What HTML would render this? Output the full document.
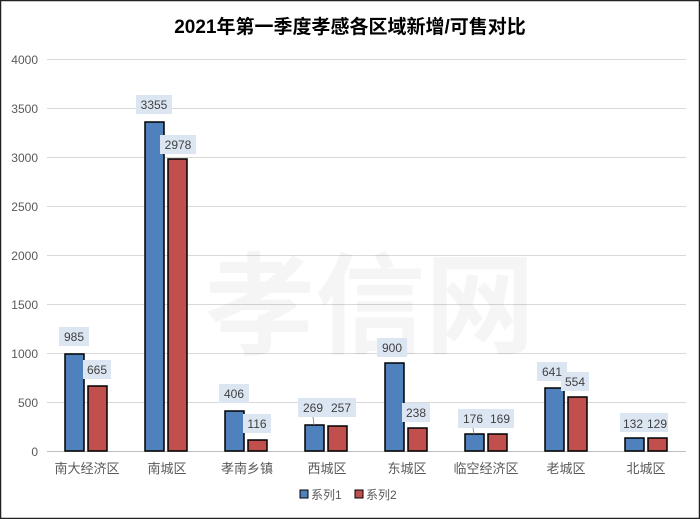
<!DOCTYPE html>
<html><head><meta charset="utf-8"><style>
body{margin:0;background:#fff}
svg{display:block;font-family:"Liberation Sans","Noto Sans CJK SC",sans-serif}
</style></head><body>
<svg width="700" height="519" viewBox="0 0 700 519">
<rect x="0.5" y="0.5" width="699" height="518" fill="#fff" stroke="#222" stroke-width="1.5"/>
<text x="350" y="33" text-anchor="middle" font-size="19" font-weight="bold" fill="#000">2021年第一季度孝感各区域新增/可售对比</text>
<g stroke="#d9d9d9" stroke-width="1">
<line x1="47" x2="686" y1="59.5" y2="59.5"/><line x1="47" x2="686" y1="108.5" y2="108.5"/>
<line x1="47" x2="686" y1="157.5" y2="157.5"/><line x1="47" x2="686" y1="206.5" y2="206.5"/>
<line x1="47" x2="686" y1="255.5" y2="255.5"/><line x1="47" x2="686" y1="304.5" y2="304.5"/>
<line x1="47" x2="686" y1="353.5" y2="353.5"/><line x1="47" x2="686" y1="402.5" y2="402.5"/>
<line x1="47" x2="686" y1="451.5" y2="451.5" stroke="#bfbfbf"/>
</g>
<g font-size="12" fill="#595959" text-anchor="end">
<text x="38" y="64">4000</text><text x="38" y="113">3500</text><text x="38" y="162">3000</text>
<text x="38" y="211">2500</text><text x="38" y="260">2000</text><text x="38" y="309">1500</text>
<text x="38" y="358">1000</text><text x="38" y="407">500</text><text x="38" y="456">0</text>
</g>
<text x="370" y="345" text-anchor="middle" font-size="110" font-weight="bold" fill="#000" opacity="0.035">孝信网</text>
<g stroke="#000" stroke-width="1.5">
<rect x="65" y="354" width="19" height="97" fill="#4f81bd"/><rect x="88" y="386" width="19" height="65" fill="#c0504d"/>
<rect x="145" y="122" width="19" height="329" fill="#4f81bd"/><rect x="168" y="159" width="19" height="292" fill="#c0504d"/>
<rect x="225" y="411" width="19" height="40" fill="#4f81bd"/><rect x="248" y="440" width="19" height="11" fill="#c0504d"/>
<rect x="305" y="425" width="19" height="26" fill="#4f81bd"/><rect x="328" y="426" width="19" height="25" fill="#c0504d"/>
<rect x="385" y="363" width="19" height="88" fill="#4f81bd"/><rect x="408" y="428" width="19" height="23" fill="#c0504d"/>
<rect x="465" y="434" width="19" height="17" fill="#4f81bd"/><rect x="488" y="434" width="19" height="17" fill="#c0504d"/>
<rect x="545" y="388" width="19" height="63" fill="#4f81bd"/><rect x="568" y="397" width="19" height="54" fill="#c0504d"/>
<rect x="625" y="438" width="19" height="13" fill="#4f81bd"/><rect x="648" y="438" width="19" height="13" fill="#c0504d"/>
</g>
<g font-size="12" fill="#404040" text-anchor="middle">
<g fill="#dce6f2">
<rect x="59" y="327" width="30" height="19"/><rect x="83" y="360" width="28" height="19"/>
<rect x="136" y="95" width="36" height="19"/><rect x="160" y="135" width="36" height="19"/>
<rect x="219" y="384" width="30" height="19"/><rect x="243" y="414" width="28" height="19"/>
<rect x="298" y="398" width="30" height="19"/><rect x="327" y="398" width="29" height="19"/>
<rect x="377" y="338" width="30" height="19"/><rect x="402" y="403" width="28" height="19"/>
<rect x="458" y="409" width="30" height="19"/><rect x="486" y="409" width="28" height="19"/>
<rect x="537" y="362" width="30" height="19"/><rect x="561" y="372" width="28" height="19"/>
<rect x="620" y="413" width="48" height="19"/>
</g>
<text x="74" y="341">985</text><text x="97" y="374">665</text>
<text x="154" y="109">3355</text><text x="178" y="149">2978</text>
<text x="234" y="398">406</text><text x="257" y="428">116</text>
<text x="313" y="412">269</text><text x="341" y="412">257</text>
<text x="392" y="352">900</text><text x="416" y="417">238</text>
<text x="473" y="423">176</text><text x="500" y="423">169</text>
<text x="552" y="376">641</text><text x="575" y="386">554</text>
<text x="633" y="428">132</text><text x="657" y="428">129</text>
</g>
<g stroke="#7f7f7f" stroke-width="0.8"><line x1="313" y1="417" x2="314" y2="425"/><line x1="473" y1="428" x2="474" y2="434"/></g>
<g font-size="13" fill="#595959" text-anchor="middle">
<text x="87" y="473">南大经济区</text><text x="167" y="473">南城区</text><text x="247" y="473">孝南乡镇</text>
<text x="327" y="473">西城区</text><text x="407" y="473">东城区</text><text x="486" y="473">临空经济区</text>
<text x="566" y="473">老城区</text><text x="646" y="473">北城区</text>
</g>
<rect x="300" y="490" width="8" height="8" fill="#4f81bd" stroke="#000" stroke-width="1"/>
<text x="311" y="499" font-size="12" fill="#595959">系列1</text>
<rect x="355" y="490" width="8" height="8" fill="#c0504d" stroke="#000" stroke-width="1"/>
<text x="366" y="499" font-size="12" fill="#595959">系列2</text>
</svg>
</body></html>
